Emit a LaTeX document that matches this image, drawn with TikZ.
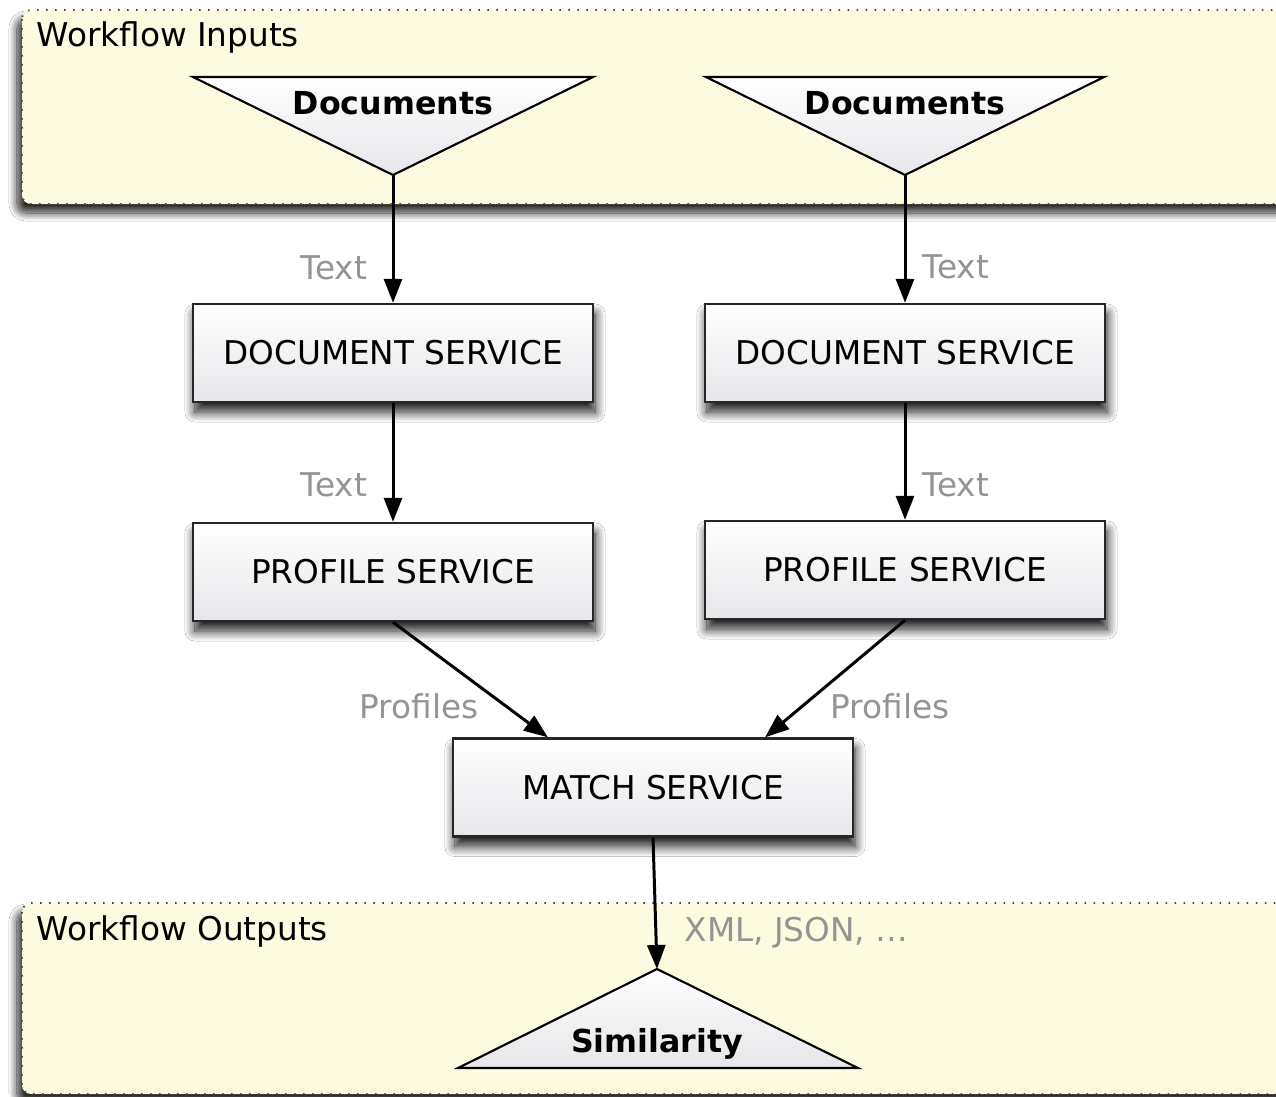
\documentclass[tikz,border=0pt]{standalone}
\usepackage{fontspec}
\setmainfont{DejaVu Sans}
\usetikzlibrary{arrows.meta,shadows.blur,calc}
\definecolor{panelfill}{HTML}{FDFBDF}
\definecolor{panelline}{HTML}{444444}
\definecolor{labelgray}{HTML}{949494}
\definecolor{boxbottom}{HTML}{E6E6EA}
\tikzset{
  panel/.style={fill=panelfill, draw=panelline, line width=0.5pt,
    dash pattern=on 0.015cm off 0.075cm, rounded corners=0.09cm,
    blur shadow={shadow xshift=-0.05cm, shadow yshift=-0.09cm,
      shadow blur radius=0.08cm, shadow blur steps=14, shadow opacity=85}},
  panelcaption/.style={anchor=base west, inner sep=0pt, text=black},
  service/.style={draw=black!85, line width=0.65pt, top color=white,
    bottom color=boxbottom, minimum width=4cm, minimum height=0.98cm,
    inner sep=0pt,
    blur shadow={shadow xshift=0.02cm, shadow yshift=-0.1cm,
      shadow blur radius=0.1cm, shadow blur steps=14, shadow opacity=90}},
  datashape/.style={draw=black, line width=0.6pt, top color=white,
    bottom color=boxbottom},
  datatitle/.style={font=\fontsize{9pt}{11pt}\selectfont\bfseries,
    anchor=base, inner sep=0pt},
  flow/.style={line width=0.85pt,
    -{Triangle[length=0.24cm,width=0.18cm,fill=black]}},
  flowlabel/.style={text=labelgray, inner sep=0pt}
}
\begin{document}
\begin{tikzpicture}[x=0.01cm, y=-0.01cm, font=\fontsize{9.3pt}{11pt}\selectfont]
\useasboundingbox (0,0) rectangle (1276,1096);
\fill[white] (0,0) rectangle (1276,1096);
\begin{scope}
\clip (0,0) rectangle (1276,1096);

% input and output panels
\path[panel] (22,10) rectangle (1310,204);
\node[panelcaption] (incap) at (36,46) {Workflow Inputs};
\path[panel] (22,903) rectangle (1310,1094);
\node[panelcaption] (outcap) at (36,940) {Workflow Outputs};

% input documents (downward triangles)
\path[datashape] (193,77) -- (593,77) -- (393,175) -- cycle;
\coordinate (doctipA) at (393,175);
\node[datatitle] (docA) at (393,114) {Documents};
\path[datashape] (706,77) -- (1104,77) -- (905,175) -- cycle;
\coordinate (doctipB) at (905,175);
\node[datatitle] (docB) at (905,114) {Documents};

% services
\node[service] (dsA) at (393,353) {DOCUMENT SERVICE};
\node[service] (dsB) at (905,353) {DOCUMENT SERVICE};
\node[service] (psA) at (393,572) {PROFILE SERVICE};
\node[service] (psB) at (905,570) {PROFILE SERVICE};
\node[service] (match) at (653,787.5) {MATCH SERVICE};

% output (upward triangle)
\path[datashape] (657,969) -- (858,1068) -- (458,1068) -- cycle;
\coordinate (simtip) at (657,969);
\node[datatitle] (sim) at (657,1052) {Similarity};

% connectors
\draw[flow] (doctipA) -- (dsA.north);
\draw[flow] (doctipB) -- (dsB.north);
\draw[flow] (dsA.south) -- (psA.north);
\draw[flow] (dsB.south) -- (psB.north);
\draw[flow] (psA.south) -- ([xshift=-1.05cm]match.north);
\draw[flow] (psB.south) -- ([xshift=1.12cm]match.north);
\draw[flow] (match.south) -- (simtip);

% connector labels
\node[flowlabel] (lt1) at (334,268) {Text};
\node[flowlabel] (lt2) at (956,267) {Text};
\node[flowlabel] (lt3) at (334,485) {Text};
\node[flowlabel] (lt4) at (956,485) {Text};
\node[flowlabel] (lp1) at (419,706) {Profiles};
\node[flowlabel] (lp2) at (890,706) {Profiles};
\node[flowlabel, anchor=west] (lx) at (684,933) {XML, JSON, \dots};
\end{scope}
\end{tikzpicture}
\end{document}
